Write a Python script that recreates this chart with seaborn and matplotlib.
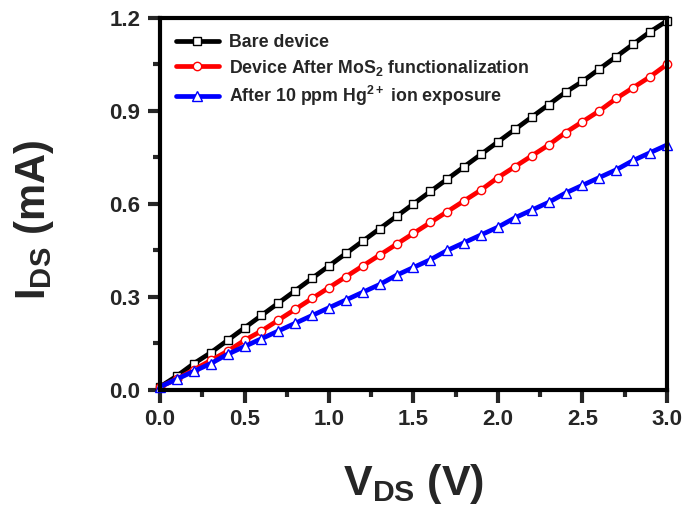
import numpy as np
import pandas as pd
import matplotlib
matplotlib.use("Agg")
import matplotlib.pyplot as plt
import seaborn as sns
from matplotlib.ticker import MultipleLocator

vds = [round(0.1 * i, 1) for i in range(31)]
bare = [0.01, 0.045, 0.085, 0.12, 0.16, 0.20, 0.24, 0.28, 0.32, 0.36, 0.40,
        0.44, 0.48, 0.52, 0.56, 0.60, 0.64, 0.68, 0.72, 0.76, 0.80,
        0.84, 0.88, 0.92, 0.96, 0.995, 1.035, 1.075, 1.115, 1.155, 1.19]
mos2 = [0.01, 0.035, 0.065, 0.095, 0.125, 0.16, 0.19, 0.225, 0.26, 0.295, 0.33,
        0.365, 0.40, 0.435, 0.47, 0.505, 0.54, 0.575, 0.61, 0.645, 0.685,
        0.72, 0.755, 0.79, 0.83, 0.865, 0.90, 0.94, 0.975, 1.01, 1.05]
hg = [0.01, 0.035, 0.06, 0.085, 0.115, 0.14, 0.165, 0.19, 0.215, 0.24, 0.265,
      0.29, 0.315, 0.34, 0.37, 0.395, 0.42, 0.45, 0.475, 0.50, 0.525,
      0.555, 0.58, 0.605, 0.635, 0.66, 0.685, 0.71, 0.74, 0.765, 0.79]
labels = ["Bare device",
          r"Device After MoS$_\mathbf{2}$ functionalization",
          r"After 10 ppm Hg$^\mathbf{2+}$ ion exposure"]
colors = ["black", "red", "blue"]
markers = ["s", "o", "^"]

sns.set_theme(style="white")
plt.rcParams['font.family'] = ['Liberation Sans', 'DejaVu Sans']
plt.rcParams['font.weight'] = 'bold'
plt.rcParams['mathtext.fontset'] = 'custom'
plt.rcParams['mathtext.rm'] = 'Liberation Sans:bold'
plt.rcParams['mathtext.bf'] = 'Liberation Sans:bold'
plt.rcParams['mathtext.it'] = 'Liberation Sans:bold'

fig = plt.figure(figsize=(6.84, 5.11), dpi=100)
ax = fig.add_axes([0.234, 0.237, 0.741, 0.728])

for ys, lab, c, m in zip([bare, mos2, hg], labels, colors, markers):
    df = pd.DataFrame({"V": vds, "I": ys})
    sns.lineplot(data=df, x="V", y="I", ax=ax, color=c, linewidth=3.4,
                 marker=m, markersize=6.0 if m != "^" else 7.2,
                 markerfacecolor="white", markeredgecolor=c,
                 markeredgewidth=1.0, label=lab, clip_on=False)

ax.set_xlim(0, 3.0)
ax.set_ylim(0, 1.2)
ax.xaxis.set_minor_locator(MultipleLocator(0.25))
ax.yaxis.set_minor_locator(MultipleLocator(0.15))
ax.tick_params(which="major", direction="out", length=9, width=3,
               labelsize=16, bottom=True, left=True, pad=5)
ax.tick_params(which="minor", direction="out", length=5, width=3,
               bottom=True, left=True)
ax.set_xticks([0, 0.5, 1.0, 1.5, 2.0, 2.5, 3.0])
ax.set_yticks([0, 0.3, 0.6, 0.9, 1.2])
ax.set_xticklabels([f"{v:.1f}" for v in ax.get_xticks()], fontweight="bold")
ax.set_yticklabels([f"{v:.1f}" for v in ax.get_yticks()], fontweight="bold")

for s in ax.spines.values():
    s.set_linewidth(3)
    s.set_color("black")

ax.set_xlabel(r"V$_\mathbf{DS}$ (V)", fontsize=31, fontweight="bold", labelpad=23)
ax.set_ylabel(r"I$_\mathbf{DS}$ (mA)", fontsize=30, fontweight="bold")
ax.yaxis.set_label_coords(-0.205, 0.457)

leg = ax.legend(loc="upper left", frameon=False,
                handlelength=2.4, borderaxespad=0.5, labelspacing=0.38,
                handletextpad=0.6, prop={"weight": "bold", "size": 12.8})

fig.savefig("out.png", dpi=100)
